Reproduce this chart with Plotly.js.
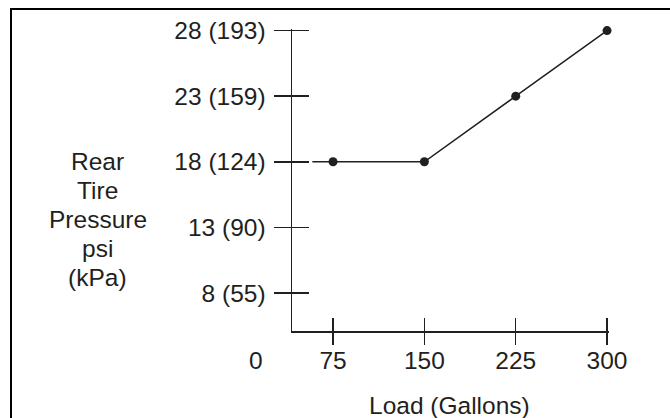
<!DOCTYPE html>
<html>
<head>
<meta charset="utf-8">
<script src="https://cdn.plot.ly/plotly-3.0.1.min.js"></script>
<style>
  html, body { margin: 0; padding: 0; width: 670px; height: 418px; overflow: hidden; background: #fff; }
  #frame { position: absolute; left: 10px; top: 8px; width: 700px; height: 450px; border: 2px solid #000; box-sizing: border-box; pointer-events: none; z-index: 5; }
  #chart { position: absolute; left: 0; top: 0; width: 670px; height: 418px; }
</style>
</head>
<body>
<div id="chart"></div>
<div id="frame"></div>
<script>
// Data
const loads = [75, 150, 225, 300];            // Load (Gallons)
const pressures = [18, 18, 23, 28];           // Rear tire pressure, psi
const lineLoads = [58, 75, 150, 225, 300];    // line starts a little left of first point
const linePressures = [18, 18, 18, 23, 28];
const yTickVals = [8, 13, 18, 23, 28];
const yTickText = ['8 (55)', '13 (90)', '18 (124)', '23 (159)', '28 (193)'];
const xTickVals = [75, 150, 225, 300];
const xTickText = ['75', '150', '225', '300'];
const originLabel = '0';
const yTitleLines = ['Rear', 'Tire', 'Pressure', 'psi', '(kPa)'];
const xTitle = 'Load (Gallons)';

const FONT = 'Liberation Sans, Arial, Helvetica, sans-serif';
const TXT = '#231f20';
const FS = 24.5;

const traces = [
  { x: lineLoads, y: linePressures, mode: 'lines', line: { color: '#231f20', width: 1.5 },
    hoverinfo: 'skip', showlegend: false, cliponaxis: false },
  { x: loads, y: pressures, mode: 'markers', marker: { color: '#231f20', size: 9 },
    showlegend: false, cliponaxis: false }
];

// ranges padded by ~1.5 px so the inside half of the end ticks is still drawn
const baseX = { range: [41.3, 301.6], showgrid: false, zeroline: false, showline: false,
  tickvals: xTickVals, linecolor: '#231f20', tickcolor: '#231f20', tickwidth: 1.5, fixedrange: true };
const baseY = { range: [5.1, 28.12], showgrid: false, zeroline: false, showline: false,
  tickvals: yTickVals, linecolor: '#231f20', tickcolor: '#231f20', tickwidth: 1.5, fixedrange: true };

const M = { l: 292, r: 61, t: 29, b: 87 };
const plotH = 418 - M.t - M.b;

// y-axis title: one annotation per line, 29 px apart, centred on the block
const titleCenterPx = 219, lineGap = 29;
const titleAnnots = yTitleLines.map((t, i) => ({
  text: t, xref: 'paper', x: 0, xshift: -194.5, xanchor: 'center',
  yref: 'paper', y: (418 - M.b - titleCenterPx) / plotH,
  yshift: -(i - (yTitleLines.length - 1) / 2) * lineGap, yanchor: 'middle',
  showarrow: false, font: { size: FS, color: TXT, family: FONT }
}));

const layout = {
  width: 670, height: 418,
  margin: M,
  paper_bgcolor: '#fff', plot_bgcolor: 'rgba(0,0,0,0)',
  font: { family: FONT, size: FS, color: TXT },
  xaxis: Object.assign({}, baseX, { showline: true, linewidth: 1.5, ticks: 'outside', ticklen: 12,
    ticktext: xTickText, ticklabelstandoff: -5, tickfont: { size: FS, color: TXT } }),
  xaxis2: Object.assign({}, baseX, { overlaying: 'x', ticks: 'inside', ticklen: 13, showticklabels: false }),
  yaxis: Object.assign({}, baseY, { showline: true, linewidth: 1.5, ticks: 'outside', ticklen: 17,
    ticktext: yTickText, ticklabelstandoff: 3, tickfont: { size: FS, color: TXT } }),
  yaxis2: Object.assign({}, baseY, { overlaying: 'y', ticks: 'inside', ticklen: 17, showticklabels: false }),
  annotations: [
    { text: originLabel, xref: 'paper', x: 0, xshift: -35.6, xanchor: 'center',
      yref: 'paper', y: 0, yshift: -29, yanchor: 'middle', showarrow: false,
      font: { size: FS, color: TXT, family: FONT } },
    { text: xTitle, xref: 'paper', x: (449.5 - M.l) / (670 - M.l - M.r), xanchor: 'center',
      yref: 'paper', y: 0, yshift: -74, yanchor: 'middle', showarrow: false,
      font: { size: FS, color: TXT, family: FONT } }
  ].concat(titleAnnots)
};

// invisible trace to activate the overlay axes (ticks crossing the axis lines)
traces.push({ x: [loads[0]], y: [pressures[0]], xaxis: 'x2', yaxis: 'y2', mode: 'markers',
  marker: { opacity: 0 }, hoverinfo: 'skip', showlegend: false });

Plotly.newPlot('chart', traces, layout, { displayModeBar: false, staticPlot: true });
</script>
</body>
</html>
